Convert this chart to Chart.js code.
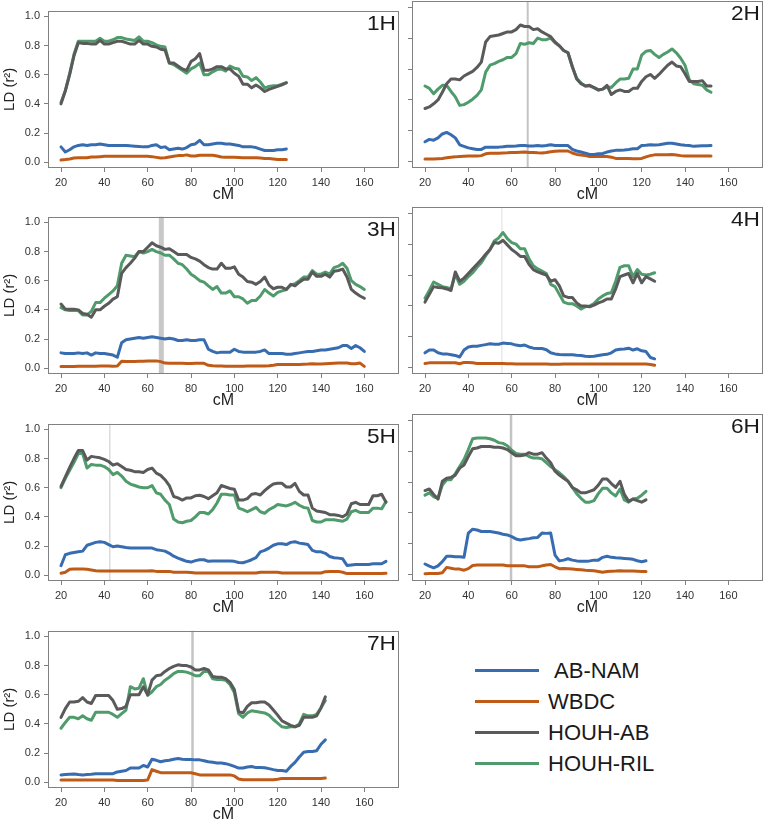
<!DOCTYPE html>
<html>
<head>
<meta charset="utf-8">
<script src="https://cdn.jsdelivr.net/npm/chart.js@4.4.1/dist/chart.umd.min.js"></script>
<style>
  html, body { margin: 0; padding: 0; background: #fff; }
  body { width: 765px; height: 821px; overflow: hidden; position: relative; font-family: "Liberation Sans", Arial, sans-serif; }
  .panel { position: absolute; }
  #legend { position: absolute; left: 475px; top: 655px; }
  .item { height: 31px; display: flex; align-items: center; }
  .swatch { width: 64px; height: 3px; margin-right: 9px; }
  .item span { font-size: 22px; color: #1a1a1a; }
</style>
</head>
<body>
<div id="legend"></div>
<script>
// axis ticks
const xTicks = [20, 40, 60, 80, 100, 120, 140, 160];
const yTicks = [0, 0.2, 0.4, 0.6, 0.8, 1.0];

const seriesNames = ['AB-NAM', 'WBDC', 'HOUH-AB', 'HOUH-RIL'];
const seriesColors = ['#386cb0', '#bf5b17', '#5a5a5a', '#4f9b6c'];

const chromosomes = ['1H', '2H', '3H', '4H', '5H', '6H', '7H'];
// position (cM) of the grey vertical marker on each chromosome
const markerCM = [null, 67.4, 66.3, 55.5, 42.5, 59.7, 80.7];

// ---- 1H ----
const cM_1H = [20,22,24,26,28,30,32,34,36,38,40,42,44,46,48,50,52,54,56,58,60,62,64,66,68,70,72,74,76,78,80,82,84,86,88,90,92,94,96,98,100,102,104,106,108,110,112,114,116,118,120,122,124];
const abnam_1H = [.105,.07,.085,.105,.115,.12,.115,.12,.12,.125,.12,.115,.115,.115,.115,.115,.112,.11,.108,.105,.105,.115,.12,.10,.105,.085,.09,.095,.09,.10,.12,.125,.15,.12,.12,.125,.13,.13,.125,.125,.12,.115,.105,.105,.105,.10,.09,.08,.08,.08,.085,.085,.09];
const wbdc_1H = [.015,.018,.022,.028,.03,.03,.03,.035,.036,.038,.04,.04,.04,.04,.04,.04,.04,.04,.04,.04,.04,.038,.033,.028,.03,.035,.04,.045,.045,.05,.042,.042,.048,.048,.048,.048,.042,.035,.033,.033,.033,.032,.03,.03,.03,.03,.028,.025,.025,.022,.018,.018,.018];
const houhab_1H = [.40,.49,.60,.73,.82,.815,.815,.81,.81,.835,.81,.81,.82,.83,.83,.82,.81,.81,.835,.81,.81,.795,.79,.775,.77,.68,.68,.66,.64,.63,.69,.71,.745,.63,.63,.64,.655,.655,.64,.64,.61,.59,.535,.535,.51,.53,.51,.485,.50,.51,.52,.53,.545];
const houhril_1H = [.41,.49,.61,.74,.83,.83,.83,.83,.83,.85,.83,.83,.84,.855,.855,.845,.84,.835,.86,.83,.83,.82,.805,.795,.79,.68,.67,.65,.63,.61,.64,.655,.68,.60,.60,.62,.635,.64,.625,.66,.645,.64,.59,.585,.56,.58,.55,.51,.52,.525,.525,.535,.545];

// ---- 2H ----
const cM_2H = [20,22,24,26,28,30,32,34,36,38,40,42,44,46,48,50,52,54,56,58,60,62,64,66,68,70,72,74,76,78,80,82,84,86,88,90,92,94,96,98,100,102,104,106,108,110,112,114,116,118,120,122,124,126,128,130,132,134,136,138,140,142,144,146,148,150,152];
const abnam_2H = [.13,.145,.14,.155,.18,.19,.175,.155,.11,.10,.09,.085,.08,.08,.095,.095,.095,.095,.097,.10,.10,.102,.105,.105,.102,.102,.105,.102,.105,.11,.105,.105,.105,.105,.08,.07,.063,.056,.048,.048,.052,.054,.063,.07,.074,.075,.077,.08,.085,.085,.105,.107,.11,.108,.11,.115,.12,.12,.115,.11,.107,.105,.10,.102,.104,.104,.105];
const wbdc_2H = [.018,.018,.018,.02,.022,.026,.03,.032,.035,.036,.037,.037,.037,.04,.052,.055,.055,.056,.057,.058,.06,.06,.062,.063,.06,.06,.058,.057,.06,.065,.068,.07,.07,.07,.057,.048,.044,.04,.035,.035,.035,.035,.035,.03,.022,.022,.022,.021,.02,.02,.022,.032,.04,.045,.045,.045,.046,.047,.044,.04,.037,.037,.037,.037,.037,.037,.037];
const houhab_2H = [.345,.355,.375,.40,.45,.505,.535,.535,.53,.555,.57,.585,.61,.645,.775,.81,.815,.82,.83,.84,.84,.855,.885,.875,.875,.855,.86,.84,.825,.81,.775,.75,.72,.705,.615,.535,.505,.49,.495,.48,.465,.47,.495,.435,.455,.465,.455,.455,.475,.475,.52,.55,.565,.54,.565,.595,.625,.645,.62,.615,.57,.52,.52,.52,.525,.49,.49];
const houhril_2H = [.49,.475,.44,.47,.495,.495,.455,.42,.365,.37,.385,.405,.43,.465,.58,.625,.635,.65,.66,.675,.675,.70,.765,.76,.77,.765,.80,.79,.79,.80,.77,.75,.72,.705,.615,.54,.51,.49,.49,.48,.465,.47,.485,.48,.51,.535,.535,.54,.60,.60,.69,.715,.72,.695,.675,.695,.71,.73,.705,.67,.625,.53,.505,.50,.495,.465,.45];

// ---- 3H ----
const cM_3H = [20,22,24,26,28,30,32,34,36,38,40,42,44,46,48,50,52,54,56,58,60,62,64,66,68,70,72,74,76,78,80,82,84,86,88,90,92,94,96,98,100,102,104,106,108,110,112,114,116,118,120,122,124,126,128,130,132,134,136,138,140,142,144,146,148,150,152,154,156,158,160];
const abnam_3H = [.105,.10,.10,.10,.105,.10,.105,.09,.105,.10,.10,.095,.09,.075,.175,.195,.20,.205,.21,.205,.21,.215,.21,.205,.20,.205,.20,.19,.19,.195,.19,.19,.195,.195,.13,.115,.105,.11,.11,.11,.13,.115,.11,.11,.11,.11,.115,.125,.10,.10,.10,.10,.095,.095,.10,.105,.11,.115,.115,.12,.125,.125,.13,.135,.14,.155,.155,.135,.155,.14,.115];
const wbdc_3H = [.012,.012,.012,.012,.013,.013,.013,.013,.014,.015,.015,.015,.013,.015,.048,.045,.045,.045,.047,.048,.05,.05,.05,.045,.035,.033,.033,.033,.033,.032,.032,.033,.033,.033,.02,.016,.015,.015,.014,.014,.014,.014,.014,.015,.015,.015,.015,.015,.016,.02,.025,.025,.025,.025,.025,.026,.027,.028,.03,.028,.028,.03,.032,.034,.035,.036,.035,.03,.03,.035,.012];
const houhab_3H = [.44,.405,.405,.405,.40,.375,.37,.35,.40,.40,.425,.445,.474,.49,.65,.69,.72,.755,.80,.80,.83,.86,.84,.83,.815,.82,.80,.78,.78,.78,.76,.75,.735,.71,.69,.68,.68,.72,.685,.685,.695,.645,.625,.595,.59,.575,.595,.625,.57,.545,.555,.555,.54,.575,.565,.59,.61,.61,.66,.63,.63,.645,.625,.665,.67,.68,.625,.54,.515,.495,.48];
const houhril_3H = [.415,.40,.395,.395,.395,.365,.365,.39,.45,.45,.48,.505,.53,.565,.72,.775,.77,.765,.80,.79,.80,.815,.80,.79,.775,.775,.75,.72,.71,.68,.645,.625,.60,.59,.565,.54,.56,.515,.515,.53,.49,.49,.475,.445,.465,.465,.495,.54,.515,.495,.52,.53,.54,.57,.58,.60,.625,.625,.67,.645,.645,.66,.645,.69,.70,.72,.685,.60,.575,.56,.54];

// ---- 4H ----
const cM_4H = [20,22,24,26,28,30,32,34,36,38,40,42,44,46,48,50,52,54,56,58,60,62,64,66,68,70,72,74,76,78,80,82,84,86,88,90,92,94,96,98,100,102,104,106,108,110,112,114,116,118,120,122,124,126];
const abnam_4H = [.097,.115,.115,.097,.09,.09,.085,.08,.07,.115,.135,.14,.14,.145,.15,.155,.152,.152,.16,.158,.155,.147,.143,.147,.135,.127,.125,.125,.117,.097,.09,.086,.085,.085,.085,.082,.08,.075,.073,.075,.08,.085,.087,.097,.115,.12,.122,.127,.115,.123,.11,.105,.067,.058];
const wbdc_4H = [.028,.032,.032,.032,.032,.032,.032,.033,.026,.035,.035,.033,.028,.028,.028,.028,.028,.028,.028,.027,.026,.024,.024,.024,.024,.024,.024,.024,.024,.023,.023,.023,.024,.024,.024,.024,.024,.024,.024,.024,.024,.025,.025,.025,.025,.025,.025,.025,.025,.024,.024,.024,.022,.017];
const houhab_4H = [.425,.475,.525,.52,.518,.51,.50,.62,.56,.58,.61,.64,.67,.70,.735,.765,.81,.805,.825,.795,.765,.745,.72,.72,.67,.635,.62,.61,.60,.56,.57,.53,.465,.455,.455,.42,.40,.40,.395,.405,.42,.43,.445,.445,.51,.59,.60,.61,.55,.61,.55,.59,.575,.56];
const houhril_4H = [.45,.50,.555,.54,.525,.52,.51,.605,.54,.56,.59,.615,.65,.68,.725,.765,.82,.84,.875,.835,.81,.80,.77,.77,.705,.66,.64,.625,.61,.54,.525,.475,.425,.415,.415,.40,.38,.395,.40,.415,.445,.465,.48,.485,.56,.65,.66,.66,.59,.635,.605,.60,.605,.615];

// ---- 5H ----
const cM_5H = [20,22,24,26,28,30,32,34,36,38,40,42,44,46,48,50,52,54,56,58,60,62,64,66,68,70,72,74,76,78,80,82,84,86,88,90,92,94,96,98,100,102,104,106,108,110,112,114,116,118,120,122,124,126,128,130,132,134,136,138,140,142,144,146,148,150,152,154,156,158,160,162,164,166,168,170];
const abnam_5H = [.065,.14,.15,.155,.16,.165,.205,.215,.225,.23,.225,.21,.195,.20,.195,.19,.186,.186,.186,.186,.186,.186,.175,.17,.165,.15,.13,.117,.106,.095,.09,.10,.106,.106,.095,.097,.097,.097,.097,.097,.095,.087,.085,.095,.106,.12,.16,.17,.186,.205,.215,.215,.21,.225,.23,.22,.215,.21,.17,.16,.16,.15,.128,.12,.117,.112,.067,.07,.073,.073,.073,.073,.078,.078,.078,.095];
const wbdc_5H = [.013,.02,.04,.042,.042,.042,.04,.035,.03,.028,.028,.028,.028,.028,.028,.028,.028,.028,.028,.028,.028,.03,.026,.026,.026,.026,.02,.02,.02,.02,.018,.015,.015,.015,.015,.015,.015,.015,.015,.015,.015,.015,.015,.015,.015,.015,.02,.02,.02,.02,.02,.015,.015,.015,.015,.015,.015,.015,.015,.015,.015,.024,.026,.026,.026,.02,.011,.011,.011,.011,.011,.011,.011,.011,.011,.013];
const houhab_5H = [.61,.675,.74,.80,.855,.855,.79,.815,.81,.805,.795,.78,.755,.765,.745,.725,.72,.71,.71,.705,.725,.735,.70,.685,.655,.615,.54,.53,.515,.53,.53,.545,.548,.54,.525,.545,.565,.615,.605,.595,.59,.515,.515,.525,.555,.56,.55,.58,.605,.625,.63,.63,.605,.605,.63,.575,.55,.55,.46,.44,.435,.43,.415,.415,.41,.40,.42,.49,.50,.485,.485,.485,.545,.545,.555,.50];
const houhril_5H = [.60,.665,.72,.775,.835,.835,.735,.76,.755,.755,.745,.725,.69,.705,.68,.645,.625,.615,.605,.60,.60,.615,.565,.555,.515,.485,.385,.365,.36,.37,.375,.40,.43,.43,.42,.45,.495,.555,.555,.55,.55,.46,.45,.435,.45,.465,.435,.425,.45,.465,.485,.48,.475,.485,.50,.48,.465,.46,.375,.365,.365,.38,.38,.38,.375,.37,.385,.435,.445,.43,.43,.43,.46,.46,.455,.505];

// ---- 6H ----
const cM_6H = [20,22,24,26,28,30,32,34,36,38,40,42,44,46,48,50,52,54,56,58,60,62,64,66,68,70,72,74,76,78,80,82,84,86,88,90,92,94,96,98,100,102,104,106,108,110,112,114,116,118,120,122];
const abnam_6H = [.07,.056,.045,.058,.085,.12,.12,.117,.117,.113,.27,.295,.29,.28,.28,.28,.275,.27,.262,.258,.247,.232,.225,.23,.234,.24,.242,.27,.268,.27,.128,.09,.095,.104,.095,.09,.088,.087,.09,.095,.095,.113,.12,.113,.11,.108,.106,.104,.10,.091,.085,.091];
const wbdc_6H = [.007,.009,.009,.009,.013,.048,.043,.037,.037,.03,.04,.06,.063,.063,.063,.063,.063,.063,.063,.058,.058,.058,.058,.058,.052,.052,.052,.058,.063,.067,.052,.04,.041,.039,.037,.035,.033,.03,.028,.026,.022,.017,.022,.023,.024,.026,.025,.024,.024,.023,.022,.022];
const houhab_6H = [.545,.555,.52,.49,.605,.625,.63,.645,.69,.71,.765,.815,.82,.83,.83,.83,.825,.825,.82,.81,.79,.77,.77,.775,.79,.78,.78,.79,.755,.725,.67,.645,.625,.605,.565,.55,.53,.53,.54,.55,.58,.62,.62,.59,.565,.605,.52,.475,.49,.48,.47,.485];
const houhril_6H = [.515,.53,.505,.495,.58,.615,.615,.655,.70,.745,.81,.88,.885,.885,.885,.88,.87,.855,.85,.835,.805,.785,.78,.78,.765,.755,.755,.75,.725,.70,.68,.66,.635,.605,.565,.525,.495,.47,.47,.48,.525,.56,.56,.53,.51,.555,.485,.47,.49,.495,.515,.54];

// ---- 7H ----
const cM_7H = [20,22,24,26,28,30,32,34,36,38,40,42,44,46,48,50,52,54,56,58,60,62,64,66,68,70,72,74,76,78,80,82,84,86,88,90,92,94,96,98,100,102,104,106,108,110,112,114,116,118,120,122,124,126,128,130,132,134,136,138,140,142];
const abnam_7H = [.05,.052,.054,.056,.052,.05,.052,.054,.058,.058,.058,.058,.058,.07,.075,.08,.097,.097,.097,.115,.104,.157,.15,.14,.147,.15,.157,.162,.158,.155,.155,.153,.153,.147,.14,.136,.132,.132,.127,.119,.108,.097,.097,.104,.108,.10,.10,.099,.093,.086,.08,.08,.075,.108,.136,.173,.205,.21,.21,.216,.26,.29];
const wbdc_7H = [.015,.015,.015,.015,.015,.015,.015,.015,.015,.015,.015,.015,.015,.011,.011,.011,.011,.011,.011,.011,.015,.086,.075,.065,.065,.065,.065,.065,.065,.065,.065,.058,.05,.05,.05,.05,.05,.05,.05,.05,.043,.022,.017,.017,.017,.017,.017,.017,.017,.017,.02,.026,.026,.026,.026,.026,.026,.026,.026,.026,.026,.028];
const houhab_7H = [.445,.505,.55,.55,.555,.58,.55,.54,.595,.595,.595,.595,.56,.50,.505,.52,.60,.60,.60,.655,.60,.70,.73,.735,.76,.78,.795,.805,.80,.80,.79,.77,.77,.78,.77,.725,.72,.72,.71,.685,.635,.485,.475,.52,.545,.545,.55,.55,.53,.495,.46,.42,.405,.39,.38,.39,.445,.445,.445,.455,.51,.585];
const houhril_7H = [.37,.41,.445,.445,.435,.455,.435,.425,.48,.48,.48,.48,.465,.445,.47,.495,.655,.64,.645,.71,.595,.62,.655,.67,.70,.72,.745,.76,.76,.755,.745,.73,.73,.76,.76,.71,.705,.705,.70,.67,.615,.47,.445,.475,.49,.485,.48,.475,.46,.43,.405,.38,.375,.38,.38,.40,.465,.455,.455,.465,.51,.56];

const panels = [
  [cM_1H, abnam_1H, wbdc_1H, houhab_1H, houhril_1H],
  [cM_2H, abnam_2H, wbdc_2H, houhab_2H, houhril_2H],
  [cM_3H, abnam_3H, wbdc_3H, houhab_3H, houhril_3H],
  [cM_4H, abnam_4H, wbdc_4H, houhab_4H, houhril_4H],
  [cM_5H, abnam_5H, wbdc_5H, houhab_5H, houhril_5H],
  [cM_6H, abnam_6H, wbdc_6H, houhab_6H, houhril_6H],
  [cM_7H, abnam_7H, wbdc_7H, houhab_7H, houhril_7H]
];

// marker look per panel
const markerLook = [
  null,
  {w: 2, c: '#c4c4c4'},
  {w: 5, c: '#c8c8c8'},
  {w: 1, c: '#dedede'},
  {w: 1.5, c: '#dcdcdc'},
  {w: 2.5, c: '#c4c4c4'},
  {w: 2.5, c: '#c4c4c4'}
];

Chart.defaults.font.family = '"Liberation Sans", Arial, sans-serif';
Chart.defaults.color = '#333';

// frame around the plot + chromosome label
const framePlugin = {
  id: 'frame',
  afterDraw(chart, args, opts) {
    const {ctx, chartArea: a} = chart;
    ctx.save();
    ctx.strokeStyle = '#808080';
    ctx.lineWidth = 1;
    ctx.strokeRect(Math.round(a.left) + 0.5, Math.round(a.top) + 0.5,
                   Math.round(a.width) - 1, Math.round(a.height) - 1);
    ctx.fillStyle = '#1a1a1a';
    ctx.font = '21px "Liberation Sans", Arial, sans-serif';
    ctx.textAlign = 'right';
    ctx.textBaseline = 'alphabetic';
    ctx.translate(a.right - 3, a.top + 19);
    ctx.scale(1.08, 1);
    ctx.fillText(opts.label, 0, 0);
    ctx.restore();
  }
};

const boxTops = [1, 207, 414, 621];
const boxH = 167;

chromosomes.forEach((name, i) => {
  const col = i % 2, row = Math.floor(i / 2);
  const left = col === 0 ? 0 : 400;
  const width = col === 0 ? 400 : 365;
  const yAxisW = col === 0 ? 48 : 12;
  const top = boxTops[row] - 1;
  const height = 1 + boxH + 36;

  const wrap = document.createElement('div');
  wrap.className = 'panel';
  wrap.style.left = left + 'px';
  wrap.style.top = top + 'px';
  const cv = document.createElement('canvas');
  cv.width = width; cv.height = height;
  cv.style.width = width + 'px'; cv.style.height = height + 'px';
  wrap.appendChild(cv);
  document.body.appendChild(wrap);

  const p = panels[i];
  const cm = p[0];
  const datasets = seriesNames.map((s, k) => ({
    label: s,
    data: cm.map((x, j) => ({x: x, y: p[k + 1][j]})),
    borderColor: seriesColors[k],
    borderWidth: 3,
    pointRadius: 0,
    borderCapStyle: 'round',
    borderJoinStyle: 'round',
    tension: 0
  }));
  if (markerCM[i] !== null) {
    datasets.push({
      label: 'marker',
      data: [{x: markerCM[i], y: -0.04}, {x: markerCM[i], y: 1.04}],
      borderColor: markerLook[i].c,
      borderWidth: markerLook[i].w,
      pointRadius: 0
    });
  }

  new Chart(cv.getContext('2d'), {
    type: 'line',
    data: {datasets: datasets},
    plugins: [framePlugin],
    options: {
      responsive: false,
      animation: false,
      events: [],
      devicePixelRatio: 1,
      layout: {padding: {top: 1, right: col === 0 ? 1 : 2, left: 0, bottom: 0}},
      plugins: {
        legend: {display: false},
        tooltip: {enabled: false},
        frame: {label: name}
      },
      scales: {
        x: {
          type: 'linear',
          min: 14, max: 176,
          afterBuildTicks: s => { s.ticks = xTicks.map(v => ({value: v})); },
          afterFit: s => { s.height = 36; },
          border: {display: false},
          grid: {drawOnChartArea: false, drawTicks: true, tickLength: 4, color: '#808080'},
          ticks: {font: {size: 11}, color: '#333', padding: 4, maxRotation: 0, autoSkip: false},
          title: {display: true, text: 'cM', font: {size: 16}, color: '#222', padding: 0}
        },
        y: {
          type: 'linear',
          min: -0.04, max: 1.04,
          afterBuildTicks: s => { s.ticks = yTicks.map(v => ({value: v})); },
          afterFit: s => { s.width = yAxisW; },
          border: {display: false},
          grid: {drawOnChartArea: false, drawTicks: true, tickLength: 4, color: '#808080'},
          ticks: {
            display: col === 0,
            font: {size: 11}, color: '#333', padding: 4,
            callback: v => Number(v).toFixed(1)
          },
          title: {display: col === 0, text: 'LD (r²)', font: {size: 15}, color: '#222', padding: {top: 1, bottom: 0}}
        }
      }
    }
  });
});

// legend
const lg = document.getElementById('legend');
seriesNames.forEach((s, k) => {
  const it = document.createElement('div');
  it.className = 'item';
  const sw = document.createElement('div');
  sw.className = 'swatch';
  sw.style.background = seriesColors[k];
  const tx = document.createElement('span');
  tx.textContent = (k === 0 ? '\u00a0' : '') + s;
  it.appendChild(sw); it.appendChild(tx);
  lg.appendChild(it);
});
</script>
</body>
</html>
